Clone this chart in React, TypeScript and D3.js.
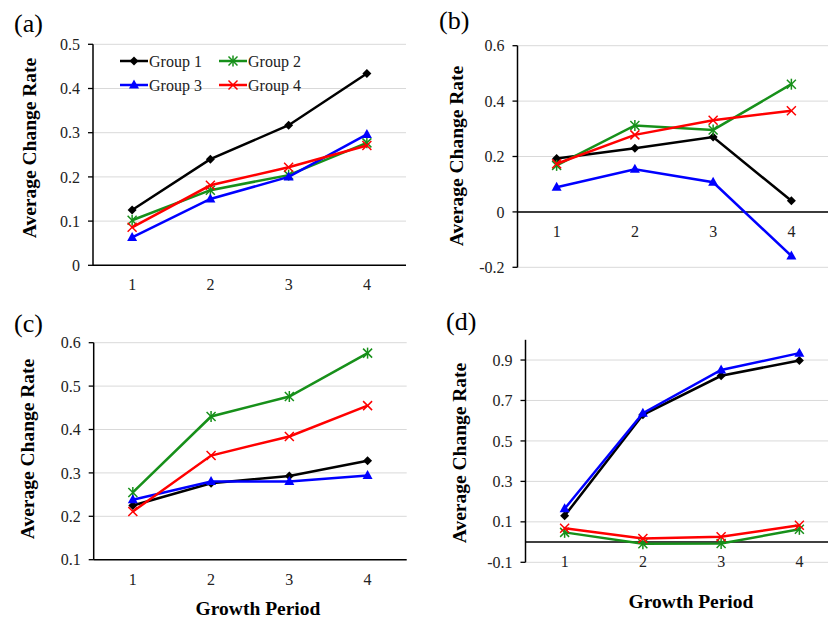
import React from "react";
import * as d3 from "d3";

const categories = ["1", "2", "3", "4"];
const groupNames = ["Group 1", "Group 2", "Group 3", "Group 4"];
const groupColors = ["#000000", "#17901a", "#0000ff", "#ff0000"];
const groupMarkers = ["diamond", "asterisk", "triangle", "cross"];

// Panel (a)
const aGroup1 = [0.125, 0.24, 0.317, 0.434];
const aGroup2 = [0.102, 0.17, 0.204, 0.277];
const aGroup3 = [0.063, 0.15, 0.2, 0.296];
const aGroup4 = [0.086, 0.181, 0.222, 0.271];
const aTicks = [0, 0.1, 0.2, 0.3, 0.4, 0.5];

// Panel (b)
const bGroup1 = [0.193, 0.23, 0.27, 0.04];
const bGroup2 = [0.168, 0.312, 0.296, 0.461];
const bGroup3 = [0.089, 0.154, 0.107, -0.159];
const bGroup4 = [0.174, 0.278, 0.331, 0.365];
const bTicks = [-0.2, 0, 0.2, 0.4, 0.6];

// Panel (c)
const cGroup1 = [0.225, 0.276, 0.293, 0.328];
const cGroup2 = [0.255, 0.43, 0.476, 0.576];
const cGroup3 = [0.238, 0.28, 0.28, 0.294];
const cGroup4 = [0.211, 0.34, 0.384, 0.455];
const cTicks = [0.1, 0.2, 0.3, 0.4, 0.5, 0.6];

// Panel (d)
const dGroup1 = [0.13, 0.629, 0.822, 0.898];
const dGroup2 = [0.048, -0.008, -0.007, 0.063];
const dGroup3 = [0.165, 0.637, 0.851, 0.934];
const dGroup4 = [0.068, 0.018, 0.026, 0.083];
const dTicks = [-0.1, 0.1, 0.3, 0.5, 0.7, 0.9];

const FONT = "Liberation Serif, DejaVu Serif, serif";
const PLOT_W = 313;

function Marker({ type, color, x, y }: { type: string; color: string; x: number; y: number }) {
  const r = 4.5;
  if (type === "diamond") {
    return <path d={`M${x},${y - r} L${x + r},${y} L${x},${y + r} L${x - r},${y} Z`} fill={color} />;
  }
  if (type === "triangle") {
    return <path d={`M${x},${y - 5.5} L${x + 5},${y + 3.5} L${x - 5},${y + 3.5} Z`} fill={color} />;
  }
  return (
    <g stroke={color} strokeWidth={1.5}>
      <line x1={x - r} y1={y - r} x2={x + r} y2={y + r} />
      <line x1={x - r} y1={y + r} x2={x + r} y2={y - r} />
      {type === "asterisk" && <line x1={x} y1={y - r - 1} x2={x} y2={y + r + 1} />}
    </g>
  );
}

type PanelProps = {
  tag: string;
  tagX: number;
  tagY: number;
  left: number;
  top: number;
  bottom: number;
  domain: [number, number];
  ticks: number[];
  series: number[][];
  titleX: number;
  titleY: number;
  xTitle?: { x: number; y: number };
  legend?: boolean;
};

function Panel(p: PanelProps) {
  const x = d3.scaleBand().domain(categories).range([p.left, p.left + PLOT_W]);
  const cx = (c: string) => (x(c) as number) + x.bandwidth() / 2;
  const y = d3.scaleLinear().domain(p.domain).range([p.bottom, p.top]);
  const cross = p.domain[0] > 0 ? p.domain[0] : 0;
  const line = d3
    .line<number>()
    .x((_, i) => cx(categories[i]))
    .y((v) => y(v));
  const fmt = (v: number) => (Math.abs(v) < 1e-9 ? "0" : String(+v.toFixed(1)));
  return (
    <g style={{ fontFamily: FONT }}>
      <text x={p.tagX} y={p.tagY} fontSize={26}>
        {p.tag}
      </text>
      {p.ticks.map((t) => (
        <line key={"g" + t} x1={p.left} x2={p.left + PLOT_W} y1={y(t)} y2={y(t)} stroke="#d9d9d9" strokeWidth={1} />
      ))}
      {p.ticks.map((t) => (
        <text key={"t" + t} x={p.left - 13} y={y(t)} dy="0.35em" textAnchor="end" fontSize={16} fill="#222">
          {fmt(t)}
        </text>
      ))}
      {p.ticks.map((t) => (
        <line key={"k" + t} x1={p.left - 5} x2={p.left} y1={y(t)} y2={y(t)} stroke="#000" strokeWidth={1.3} />
      ))}
      <line x1={p.left} x2={p.left} y1={y(p.domain[1])} y2={y(p.domain[0])} stroke="#000" strokeWidth={1.5} />
      <line x1={p.left} x2={p.left + PLOT_W} y1={y(cross)} y2={y(cross)} stroke="#000" strokeWidth={1.5} />
      {categories.map((c) => (
        <text key={"x" + c} x={cx(c)} y={y(cross) + 25} textAnchor="middle" fontSize={16} fill="#222">
          {c}
        </text>
      ))}
      {p.series.map((s, i) => (
        <g key={"s" + i}>
          <path d={line(s) as string} fill="none" stroke={groupColors[i]} strokeWidth={2.5} />
          {s.map((v, j) => (
            <Marker key={j} type={groupMarkers[i]} color={groupColors[i]} x={cx(categories[j])} y={y(v)} />
          ))}
        </g>
      ))}
      <text
        transform={`translate(${p.titleX},${p.titleY}) rotate(-90)`}
        textAnchor="middle"
        dy="0.35em"
        fontWeight="bold"
        fontSize={19.5}
      >
        Average Change Rate
      </text>
      {p.xTitle && (
        <text x={p.xTitle.x} y={p.xTitle.y} textAnchor="middle" fontWeight="bold" fontSize={19.5}>
          Growth Period
        </text>
      )}
      {p.legend &&
        groupNames.map((g, i) => {
          const lx = i % 2 === 0 ? 120 : 219;
          const ly = i < 2 ? 61 : 85;
          return (
            <g key={"l" + i}>
              <line x1={lx} x2={lx + 28} y1={ly} y2={ly} stroke={groupColors[i]} strokeWidth={2.5} />
              <Marker type={groupMarkers[i]} color={groupColors[i]} x={lx + 14} y={ly} />
              <text x={lx + 29} y={ly} dy="0.35em" fontSize={16} fill="#222">
                {g}
              </text>
            </g>
          );
        })}
    </g>
  );
}

export default function App() {
  return (
    <svg width={828} height={619} style={{ position: "absolute", left: 0, top: 0, background: "#fff" }}>
      <rect width={828} height={619} fill="#fff" />
      <Panel
        tag="(a)"
        tagX={14}
        tagY={32}
        left={93}
        top={44.3}
        bottom={265.3}
        domain={[0, 0.5]}
        ticks={aTicks}
        series={[aGroup1, aGroup2, aGroup3, aGroup4]}
        titleX={29}
        titleY={148}
        legend
      />
      <Panel
        tag="(b)"
        tagX={439}
        tagY={29}
        left={517.5}
        top={45.7}
        bottom={267.3}
        domain={[-0.2, 0.6]}
        ticks={bTicks}
        series={[bGroup1, bGroup2, bGroup3, bGroup4]}
        titleX={456}
        titleY={156}
      />
      <Panel
        tag="(c)"
        tagX={14}
        tagY={332}
        left={93.7}
        top={342.7}
        bottom={559.7}
        domain={[0.1, 0.6]}
        ticks={cTicks}
        series={[cGroup1, cGroup2, cGroup3, cGroup4]}
        titleX={27}
        titleY={449}
        xTitle={{ x: 258, y: 615 }}
      />
      <Panel
        tag="(d)"
        tagX={446}
        tagY={330}
        left={525.5}
        top={339.8}
        bottom={562.3}
        domain={[-0.1, 1.0]}
        ticks={dTicks}
        series={[dGroup1, dGroup2, dGroup3, dGroup4]}
        titleX={459}
        titleY={453}
        xTitle={{ x: 691, y: 608 }}
      />
    </svg>
  );
}
